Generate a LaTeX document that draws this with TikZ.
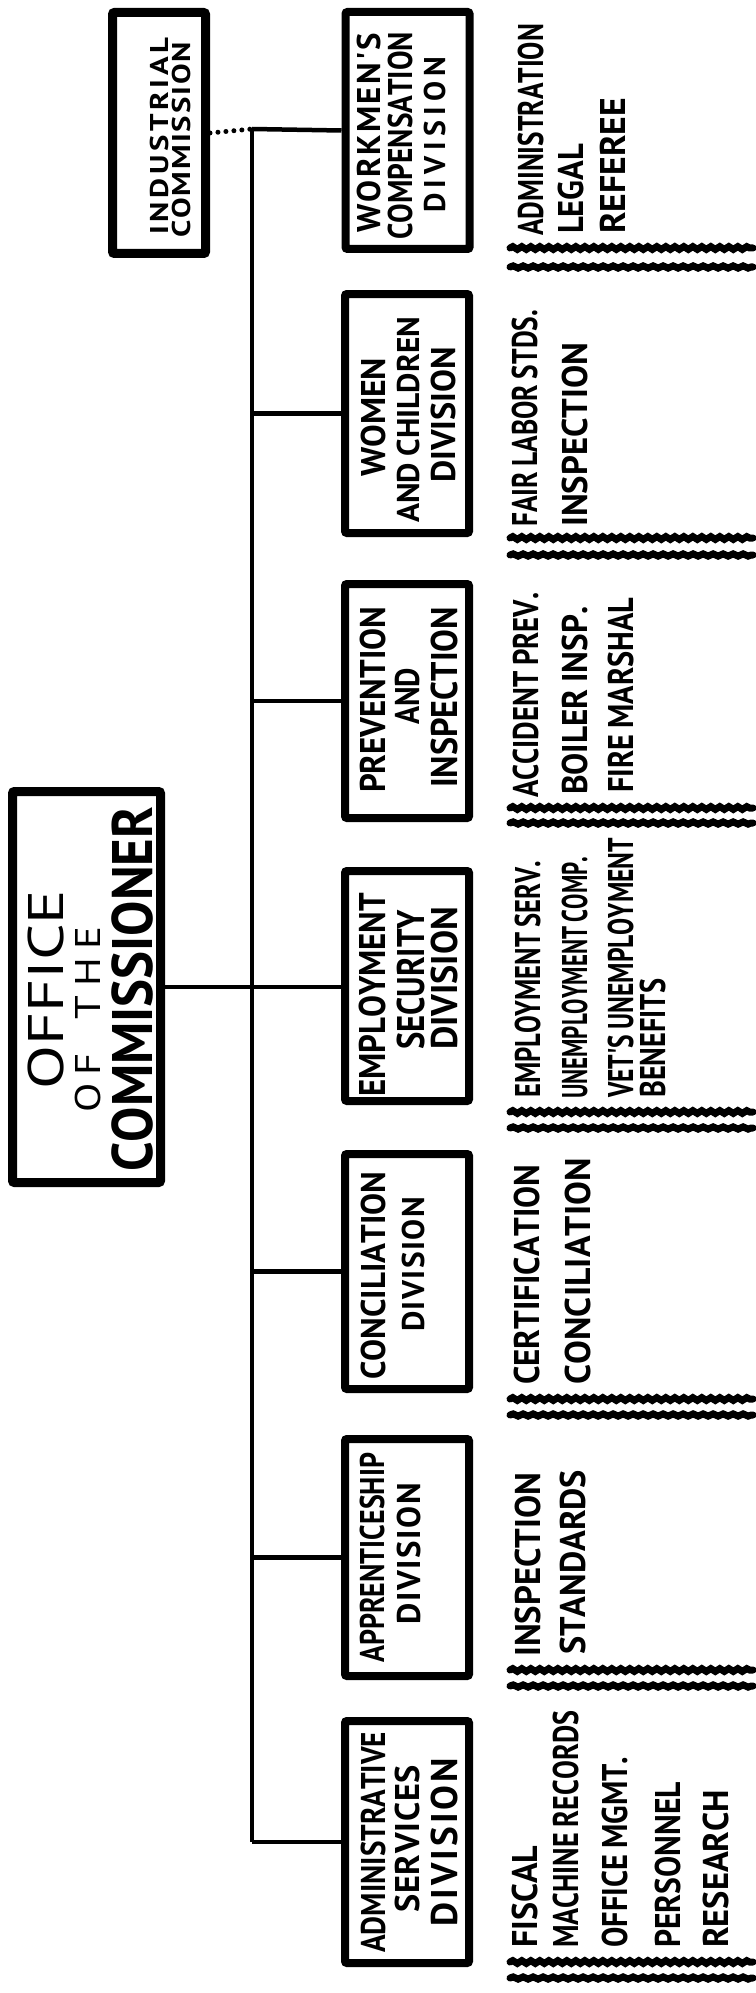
\documentclass[tikz,border=0pt]{standalone}
\usepackage{fontspec}
\usepackage{graphicx}
\usetikzlibrary{decorations.pathmorphing}
\newfontfamily\hb{PT Sans}
\ExplSyntaxOn
\box_new:N \l_ws_box
\tl_new:N \l_ws_tl
\dim_new:N \l_ws_L_dim
\fp_new:N \l_ws_r_fp
\fp_new:N \l_ws_s_fp
\cs_new_protected:Npn \ws_gap: { \hskip 0.2em plus 1fil \relax }
\cs_new_protected:Npn \ws_content:n #1
  {
    \tl_set:Nn \l_ws_tl {#1}
    \tl_replace_all:Nnn \l_ws_tl { ~ } { \ws_gap: }
    \hfilneg
    \tl_map_inline:Nn \l_ws_tl { \hfil ##1 }
  }
% #1 max widening, #2 target length (pt), #3 text
\cs_new_protected:Npn \ws_fit:nnn #1#2#3
  {
    \dim_set:Nn \l_ws_L_dim { #2 pt }
    \hbox_set:Nn \l_ws_box { \ws_content:n {#3} }
    \fp_set:Nn \l_ws_r_fp
      { \dim_to_fp:n { \l_ws_L_dim } / \dim_to_fp:n { \box_wd:N \l_ws_box } }
    \fp_compare:nNnTF { \l_ws_r_fp } < { 1 }
      { \box_scale:Nnn \l_ws_box { \l_ws_r_fp } { 1 } }
      {
        \fp_set:Nn \l_ws_s_fp { min ( \l_ws_r_fp , #1 ) }
        \hbox_set_to_wd:Nnn \l_ws_box
          { \fp_to_dim:n { \dim_to_fp:n { \l_ws_L_dim } / \l_ws_s_fp } }
          { \ws_content:n {#3} }
        \box_scale:Nnn \l_ws_box { \l_ws_s_fp } { 1 }
      }
    \box_use:N \l_ws_box
  }
\NewDocumentCommand \fitline { O{1.2} m m } { \ws_fit:nnn {#1} {#2} {#3} }
\ExplSyntaxOff
% name, x (baseline), y (bottom), length, cap height, font, text
\newcommand\tline[7]{\node[txtline, font=#6] (#1) at (#2,#3)
  {\fontsize{\fpeval{#5/0.7}}{12}\selectfont\fitline[1.0]{#4}{#7}};}
\newcommand\tlinefix[7]{\node[txtline, font=#6] (#1) at (#2,#3)
  {\fontsize{\fpeval{#5/0.7}}{12}\selectfont\fitline{#4}{#7}};}
\newcommand\subline[5]{\tline{#1}{#2}{#3}{#4}{25}{\hb\bfseries}{#5}}
\newcommand\wavepair[2]{%
  \draw[wavy] (510,#1) -- (753,#1);
  \draw[wavy, decoration={snake, amplitude=1.1pt, segment length=10pt}] (510,#2) -- (753,#2);}
\begin{document}
\begin{tikzpicture}[x=1pt,y=-1pt,
  box/.style={draw, line width=8pt, rounded corners=2pt, inner sep=0pt,
              minimum width=124pt},
  bigbox/.style={draw, line width=9pt, rounded corners=2pt, inner sep=0pt},
  txtline/.style={rotate=90, anchor=base west, inner sep=0pt},
  conn/.style={line width=4.5pt, line join=miter},
  trunk/.style={line width=4pt},
  dots/.style={line width=5pt, line cap=round, dash pattern=on 0pt off 8pt},
  wavy/.style={line width=7pt, line cap=round, decorate,
               decoration={snake, amplitude=1.4pt, segment length=9pt}}]
\useasboundingbox (0,0) rectangle (755,1993);

% ---- boxes ----
\node[bigbox, minimum width=93pt, minimum height=241pt] (ic) at (159,133) {};
\node[bigbox, minimum width=148pt, minimum height=391pt] (oc) at (86.5,987) {};
\node[box, minimum height=237pt] (wc) at (407.5,130.5) {};
\node[box, minimum height=239pt] (wo) at (407,413.5) {};
\node[box, minimum height=234pt] (pr) at (407,701) {};
\node[box, minimum height=230pt] (es) at (407,986) {};
\node[box, minimum height=235pt] (co) at (407,1271.5) {};
\node[box, minimum height=237pt] (ap) at (407,1557.5) {};
\node[box, minimum height=242pt] (ad) at (407,1842) {};

% ---- box texts ----
\tlinefix{ic1}{168}{235}{197}{18}{\hb\bfseries}{INDUSTRIAL}
\tlinefix{ic2}{190}{238}{196}{18}{\hb\bfseries}{COMMISSION}

\tline{wc1}{380}{233}{200}{23}{\hb\bfseries}{WORKMEN'S}
\tline{wc2}{412}{240}{208}{24}{\hb\bfseries}{COMPENSATION}
\tline{wc3}{445}{213}{156}{21}{\hb\bfseries}{DIVISION}

\tline{wo1}{385}{477}{119}{24}{\hb\bfseries}{WOMEN}
\tline{wo2}{419}{523}{206}{22}{\hb\bfseries}{AND CHILDREN}
\tline{wo3}{455}{483}{136}{24}{\hb\bfseries}{DIVISION}

\tline{pr1}{385}{793}{186}{25}{\hb\bfseries}{PREVENTION}
\tline{pr2}{419}{725}{57}{24}{\hb\bfseries}{AND}
\tline{pr3}{457}{788}{181}{26}{\hb\bfseries}{INSPECTION}

\tline{es1}{385}{1097}{204}{26}{\hb\bfseries}{EMPLOYMENT}
\tline{es2}{424}{1050}{140}{27}{\hb\bfseries}{SECURITY}
\tline{es3}{457}{1050}{143}{26}{\hb\bfseries}{DIVISION}

\tline{co1}{385}{1380}{208}{24}{\hb\bfseries}{CONCILIATION}
\tline{co2}{424}{1332}{135}{22}{\hb\bfseries}{DIVISION}

\tline{ap1}{384}{1663}{210}{24}{\hb\bfseries}{APPRENTICESHIP}
\tline{ap2}{420}{1625}{142}{23}{\hb\bfseries}{DIVISION}

\tline{ad1}{385}{1953}{221}{24}{\hb\bfseries}{ADMINISTRATIVE}
\tline{ad2}{419}{1913}{148}{24}{\hb\bfseries}{SERVICES}
\tline{ad3}{457}{1927}{169}{26}{\hb\bfseries}{DIVISION}

% Office of the Commissioner
\node[txtline, font=\hb\fontsize{50}{50}\selectfont] (oc1) at (63,1090)
  {\fitline[1.7]{200}{OFFICE}};
\tlinefix{oc2}{100}{1113}{186}{25}{\hb}{OF THE}
\tlinefix{oc3}{152}{1172}{365}{40}{\hb\bfseries}{COMMISSIONER}

% ---- connectors ----
\coordinate (tTop) at (252,129);
\coordinate (tBot) at (ad.west -| tTop);
\draw[dots] (ic.east) -- (tTop);
\draw[trunk] (tTop) -- (tBot);
\draw[conn] (tTop) -- (wc.west);
\draw[conn] (wo.west -| tTop) -- (wo.west);
\draw[conn] (pr.west -| tTop) -- (pr.west);
\draw[conn] (oc.east) -- (oc.east -| es.west);
\draw[conn] (co.west -| tTop) -- (co.west);
\draw[conn] (ap.west -| tTop) -- (ap.west);
\draw[conn] (tBot) -- (ad.west);

% ---- sub-function lists ----
\subline{w1}{543}{236}{212}{ADMINISTRATION}
\subline{w2}{583}{234}{90}{LEGAL}
\subline{w3}{625}{234}{136}{REFEREE}
\wavepair{248}{267}

\subline{f1}{537}{527}{217}{FAIR LABOR STDS.}
\subline{f2}{587}{527}{184}{INSPECTION}
\wavepair{538}{555}

\subline{p1}{538}{798}{205}{ACCIDENT PREV.}
\subline{p2}{587}{795}{188}{BOILER INSP.}
\subline{p3}{633}{793}{195}{FIRE MARSHAL}
\wavepair{808}{823}

\subline{e1}{540}{1098}{237}{EMPLOYMENT SERV.}
\subline{e2}{587}{1099}{242}{UNEMPLOYMENT COMP.}
\subline{e3}{633}{1098}{260}{VET'S UNEMPLOYMENT}
\subline{e4}{665}{1098}{119}{BENEFITS}
\wavepair{1112}{1128}

\subline{c1}{539}{1385}{220}{CERTIFICATION}
\subline{c2}{590}{1385}{227}{CONCILIATION}
\wavepair{1399}{1415}

\subline{a1}{540}{1657}{184}{INSPECTION}
\subline{a2}{585}{1655}{185}{STANDARDS}
\wavepair{1670}{1686}

\subline{s1}{537}{1948}{102}{FISCAL}
\subline{s2}{578}{1948}{237}{MACHINE RECORDS}
\subline{s3}{627}{1948}{191}{OFFICE MGMT.}
\subline{s4}{680}{1948}{166}{PERSONNEL}
\subline{s5}{728}{1948}{158}{RESEARCH}
\wavepair{1962}{1978}
\end{tikzpicture}
\end{document}
